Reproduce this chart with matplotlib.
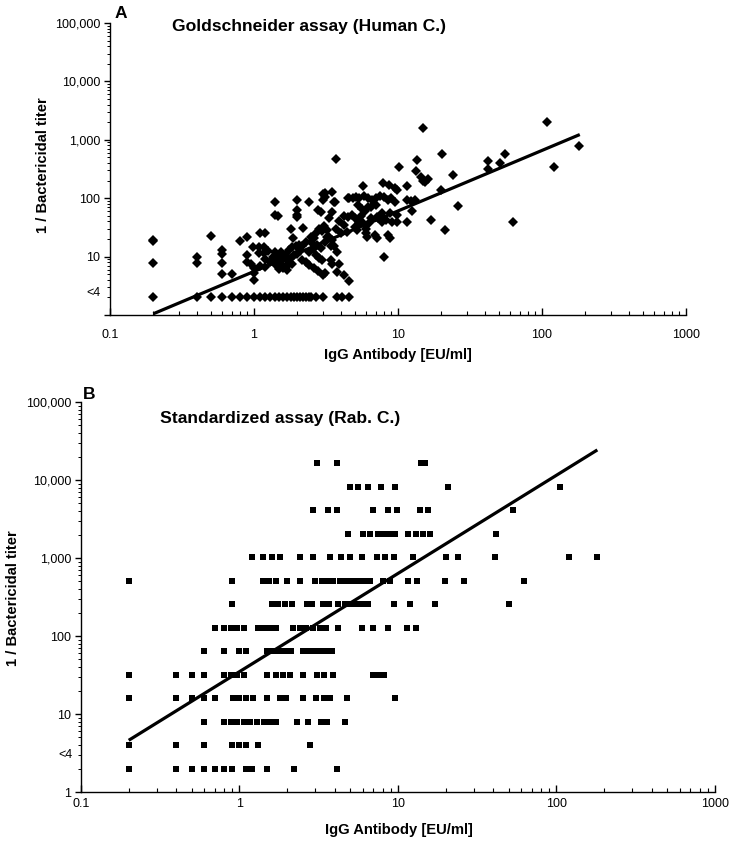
import numpy as np
import matplotlib
matplotlib.use("Agg")
import matplotlib.pyplot as plt

plt.rcParams['font.family'] = ['Liberation Sans', 'DejaVu Sans']

# ---- panel A: Goldschneider assay (human complement) ----
NEG_LEVEL = 2  # plotted position of "<4" titers

a_neg_x = [0.2, 0.4, 0.5, 0.6, 0.7, 0.8, 0.9, 1.0, 1.1, 1.2, 1.3, 1.4, 1.5, 1.6,
           1.7, 1.8, 1.9, 2.0, 2.1, 2.2, 2.3, 2.4, 2.5, 2.7, 3.0, 3.8, 4.1, 4.6]

a_x1 = [0.2, 0.2, 0.2, 0.4, 0.4, 0.5, 0.6, 0.6, 0.6, 0.6, 0.7, 0.8, 0.9, 0.9, 0.9,
        0.95, 1.0, 1.0, 1.0, 1.1, 1.19, 0.98, 1.08, 1.17, 1.08, 1.17, 1.1, 1.2, 1.2, 1.25]
a_y1 = [18.5, 19.5, 7.9, 10, 7.9, 22.7, 13, 11, 7.7, 5, 5, 18.5, 21.5, 10.5, 8,
        7.5, 6.4, 5.2, 4.0, 25.6, 25.6, 14.8, 14.8, 14.8, 11.4, 11.4, 7, 6.6, 9, 12.5]

a_x2 = [1.4, 1.4, 1.47, 1.4, 1.45, 1.5, 1.55, 1.6, 1.65, 1.7, 1.75, 1.8, 1.6, 1.5,
        1.7, 1.85, 1.9, 1.55, 1.4, 1.3, 1.35, 1.55, 1.75, 1.8, 1.87, 2.2, 1.85, 1.95,
        2.05, 2.15, 2.0, 2.0, 2.0, 1.98, 2.15, 2.3, 2.0, 2.1, 2.05, 2.3]
a_y2 = [87, 52, 50, 12, 10, 8.5, 7.5, 9, 10.5, 7, 8, 9.5, 6.5, 6.2,
        6, 7.5, 10.5, 11, 7.5, 8, 10, 12, 13, 29.6, 20.5, 30.5, 14.5, 15,
        14, 15, 95, 63, 52, 48, 8.7, 8.2, 11, 12.5, 16, 18]

a_x3 = [2.42, 2.4, 2.6, 2.8, 3.0, 3.1, 2.7, 2.85, 2.95, 2.7, 2.85, 2.95, 3.05, 3.2,
        3.0, 3.1, 3.0, 2.8, 2.9, 2.5, 2.6, 2.75, 2.9, 3.1, 3.2, 2.4, 2.55, 2.5,
        3.3, 3.5, 3.4, 3.6, 3.8, 3.4, 3.5, 3.9, 3.8, 4.2, 4.6, 3.5, 3.1, 3.6,
        3.5, 4.2, 3.7, 3.65, 3.9, 4.2, 3.7, 4.0, 4.4, 3.3]
a_y3 = [87, 7.2, 6.5, 5.6, 4.8, 5.2, 10.6, 9.5, 8.7, 25, 30, 27, 33, 28,
        120, 105, 95, 64, 58, 18, 21, 16, 14, 18, 22, 12, 13.5, 22,
        22, 19, 15, 15, 12, 8.7, 7.5, 7.5, 5.5, 4.8, 3.8, 130, 122, 87,
        58, 50, 465, 87, 40, 35, 30, 25, 26, 45]

a_x4 = [4.5, 4.8, 4.6, 4.9, 5.1, 5.4, 5.8, 6.2, 6.6, 7.0, 7.5, 8.0, 8.5, 9.0, 9.5,
        5.7, 7.9, 8.6, 9.5, 9.9, 5.3, 5.6, 5.9, 6.2, 6.5, 7.0, 7.7, 7.7, 8.3, 9.1,
        9.8, 9.8, 5.4, 5.7, 6.0, 6.1, 6.9, 7.1, 8.5, 8.8, 8.0, 5.0, 5.5, 6.5, 7.2,
        6.0, 5.2, 5.0, 6.3, 7.3, 8.8, 4.5]
a_y4 = [48, 52, 100, 100, 105, 100, 110, 100, 95, 100, 110, 105, 95, 100, 85,
        163, 180, 168, 148, 138, 75, 65, 60, 70, 72, 75, 55, 39, 42, 39,
        52, 39, 37, 37, 25, 22, 23, 21, 23, 21, 10, 45, 50, 45, 48,
        30, 28, 32, 38, 45, 55, 100]

a_x5 = [10.1, 11.6, 11.5, 12.3, 13.1, 12.6, 11.6, 13.3, 13.5, 14.4, 15.0, 15.5, 16.2,
        14.8, 16.9, 20.0, 20.2, 21.2, 24.2, 26.3, 42, 42, 51, 55, 63, 108, 122, 182]
a_y5 = [347, 163, 93, 90, 93, 60, 39, 296, 450, 230, 200, 190, 210,
        1570, 42, 138, 563, 28, 250, 74, 437, 320, 405, 563, 38.6, 2040, 347, 790]

a_fit_x = [0.2, 183]
a_fit_y = [1.05, 1230]

# ---- panel B: standardized assay (rabbit complement) ----
b_levels = [2, 4, 8, 16, 32, 64, 128, 256, 512, 1024, 2048, 4096, 8192, 16384]
b_rows = [
    [0.2, 0.4, 0.5, 0.6, 0.7, 0.8, 0.9, 1.1, 1.2, 1.5, 2.2, 4.1],
    [0.2, 0.4, 0.6, 0.9, 1.0, 1.1, 1.3, 2.8],
    [0.6, 0.8, 0.88, 0.97, 1.07, 1.17, 1.29, 1.42, 1.56, 1.71, 2.3, 2.7, 3.25, 3.55, 4.65],
    [0.2, 0.4, 0.5, 0.6, 0.7, 0.91, 1.0, 1.1, 1.21, 1.5, 1.8, 1.97, 2.5, 3.05, 3.4,
     3.75, 4.75, 9.6],
    [0.2, 0.4, 0.5, 0.6, 0.8, 0.88, 0.97, 1.07, 1.5, 1.7, 1.88, 2.08, 2.5, 3.1, 3.4,
     3.9, 7.0, 7.6, 8.2],
    [0.6, 0.8, 1.0, 1.1, 1.5, 1.63, 1.77, 1.94, 2.1, 2.5, 2.7, 2.95, 3.2, 3.5, 3.85],
    [0.7, 0.8, 0.88, 0.97, 1.07, 1.3, 1.42, 1.56, 1.7, 2.17, 2.4, 2.63, 2.9, 3.2, 3.5,
     4.2, 5.9, 7.0, 8.6, 11.4, 13.0],
    [0.9, 1.6, 1.75, 1.95, 2.15, 2.65, 2.85, 3.35, 3.65, 4.2, 4.6, 5.0, 5.4, 5.9, 6.5,
     9.4, 11.9, 17, 50],
    [0.2, 0.9, 1.4, 1.53, 1.7, 2.0, 2.4, 3.0, 3.3, 3.6, 3.9, 4.3, 4.7, 5.1, 5.6, 6.1,
     6.7, 8.0, 8.9, 11.5, 13.2, 19.8, 26, 62],
    [1.2, 1.4, 1.6, 1.8, 2.4, 2.9, 3.7, 4.4, 5.0, 5.9, 7.4, 8.3, 9.5, 12.5, 20, 24, 41,
     120, 181],
    [4.85, 6.0, 6.7, 7.5, 8.2, 8.9, 9.6, 11.5, 13.0, 14.3, 16, 41.5],
    [2.9, 3.6, 4.1, 7.0, 8.6, 9.9, 13.8, 15.5, 53],
    [5.0, 5.6, 6.5, 7.8, 9.6, 20.7, 105],
    [3.1, 4.1, 14, 14.8],
]
b_fit_x = [0.2, 181]
b_fit_y = [4.6, 24300]

x_ticks = [0.1, 1, 10, 100, 1000]
x_labels = ['0.1', '1', '10', '100', '1000']
y_ticks = [1, 10, 100, 1000, 10000, 100000]
y_labels = ['1', '10', '100', '1,000', '10,000', '100,000']

W, H = 737, 847
fig = plt.figure(figsize=(W / 100, H / 100), dpi=100)


def style_axes(ax, show_one, x_pad):
    ax.set_xscale('log')
    ax.set_yscale('log')
    ax.set_xlim(0.1, 1000)
    ax.set_ylim(1, 100000)
    for s in ['top', 'right']:
        ax.spines[s].set_visible(False)
    for s in ['left', 'bottom']:
        ax.spines[s].set_linewidth(1.0)
    ax.set_xticks(x_ticks, labels=x_labels)
    if show_one:
        ax.set_yticks(y_ticks, labels=y_labels)
    else:
        ax.set_yticks(y_ticks, labels=[''] + y_labels[1:])
    ax.tick_params(axis='x', which='major', direction='in', length=5, width=1,
                   pad=x_pad, labelsize=9)
    ax.tick_params(axis='x', which='minor', direction='in', length=3, width=0.8)
    ax.tick_params(axis='y', which='major', direction='out', length=4, width=1,
                   pad=3, labelsize=9)
    ax.tick_params(axis='y', which='minor', direction='out', length=2, width=0.7)


# panel A
ax_a = fig.add_axes([110 / W, 1 - 315 / H, 576 / W, 292 / H])
style_axes(ax_a, False, 10)
a_x = np.concatenate([a_neg_x, a_x1, a_x2, a_x3, a_x4, a_x5])
a_y = np.concatenate([np.full(len(a_neg_x), NEG_LEVEL), a_y1, a_y2, a_y3, a_y4, a_y5])
ax_a.plot(a_x, a_y, 'D', color='black', markersize=4.8, markeredgewidth=0, clip_on=False)
ax_a.plot(a_fit_x, a_fit_y, color='black', linewidth=2.3, solid_capstyle='butt')
ax_a.text(-0.017, 2.4, '<4', transform=ax_a.get_yaxis_transform(),
          ha='right', va='center', fontsize=9)

# panel B
ax_b = fig.add_axes([81 / W, 1 - 792 / H, 634 / W, 390 / H])
style_axes(ax_b, True, 4)
for lev, xs in zip(b_levels, b_rows):
    ax_b.plot(xs, [lev] * len(xs), 's', color='black', markersize=5.0,
              markeredgewidth=0)
ax_b.plot(b_fit_x, b_fit_y, color='black', linewidth=2.3, solid_capstyle='butt')
ax_b.text(-0.013, 3.0, '<4', transform=ax_b.get_yaxis_transform(),
          ha='right', va='center', fontsize=9)

# labels
fig.text(115 / W, 1 - 14 / H, 'A', fontsize=12.5, fontweight='bold', va='center')
fig.text(172 / W, 1 - 27 / H, 'Goldschneider assay (Human C.)', fontsize=12.6,
         fontweight='bold', va='center')
fig.text(398 / W, 1 - 355 / H, 'IgG Antibody [EU/ml]', fontsize=10.6,
         fontweight='bold', ha='center', va='center')
fig.text(43 / W, 1 - 165 / H, '1 / Bactericidal titer', fontsize=10.6,
         fontweight='bold', ha='center', va='center', rotation=90)

fig.text(83 / W, 1 - 394 / H, 'B', fontsize=12.5, fontweight='bold', va='center')
fig.text(160 / W, 1 - 418 / H, 'Standardized assay (Rab. C.)', fontsize=12.6,
         fontweight='bold', va='center')
fig.text(399 / W, 1 - 830 / H, 'IgG Antibody [EU/ml]', fontsize=10.6,
         fontweight='bold', ha='center', va='center')
fig.text(13 / W, 1 - 598 / H, '1 / Bactericidal titer', fontsize=10.6,
         fontweight='bold', ha='center', va='center', rotation=90)

fig.savefig('out.png', dpi=100)
